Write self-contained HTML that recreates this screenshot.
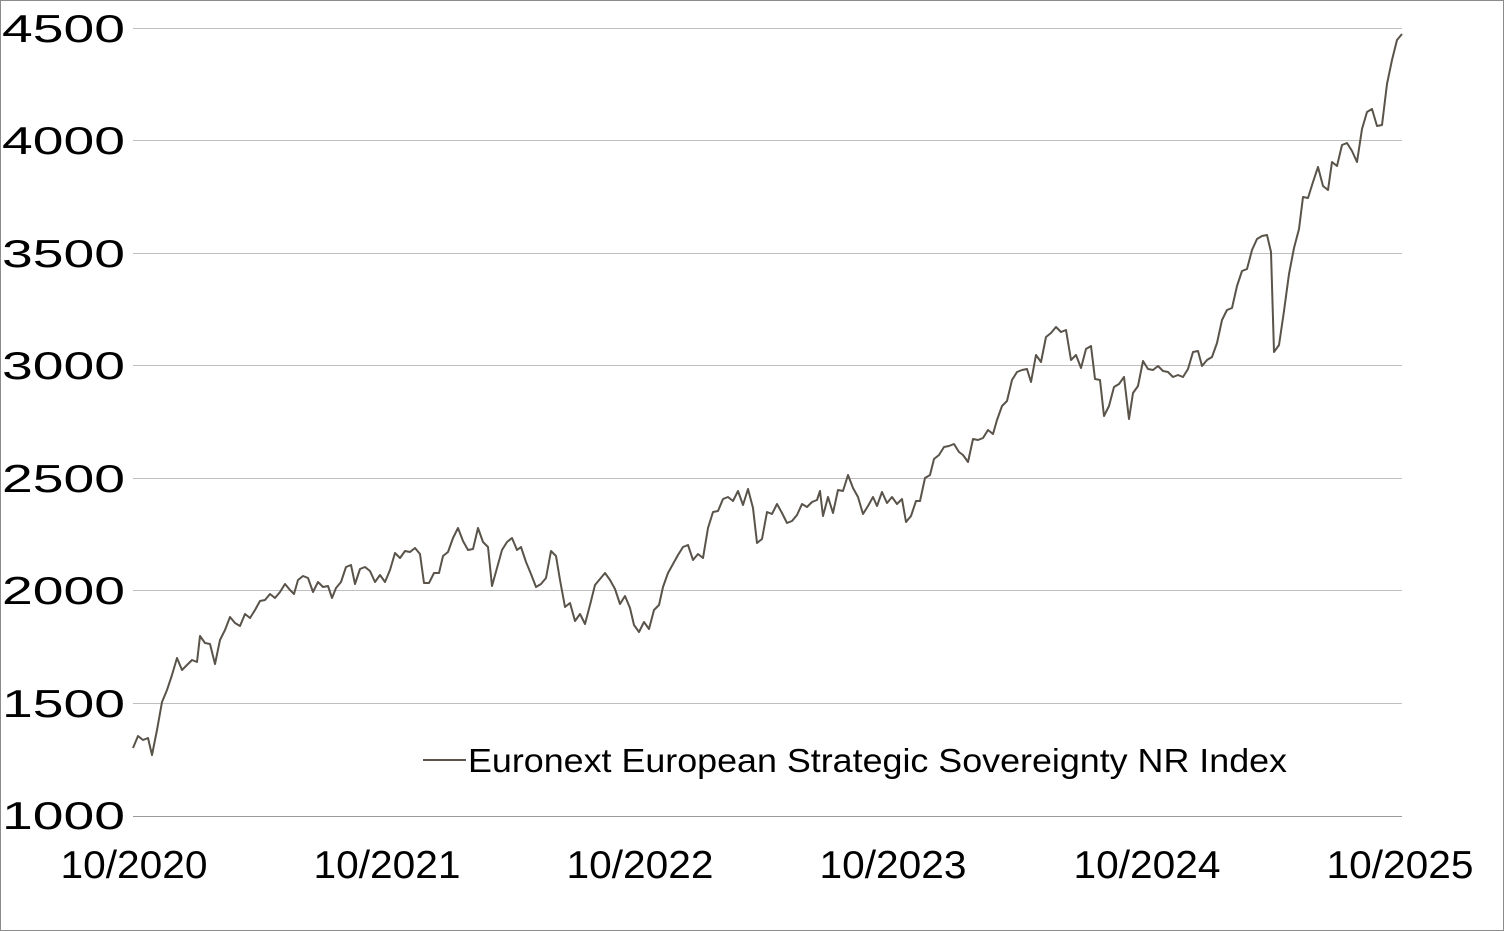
<!DOCTYPE html>
<html><head><meta charset="utf-8"><style>
html,body{margin:0;padding:0;background:#fff;}
svg{display:block;font-family:"Liberation Sans",sans-serif;}
</style></head><body>
<svg width="1504" height="931" viewBox="0 0 1504 931" xmlns="http://www.w3.org/2000/svg">
<rect x="0.5" y="0.5" width="1503" height="930" fill="#fff" stroke="#8c8c8c"/>
<g stroke="#bfbfbf" stroke-width="1">
<line x1="133" x2="1402" y1="28.5" y2="28.5"/>
<line x1="133" x2="1402" y1="140.5" y2="140.5"/>
<line x1="133" x2="1402" y1="253.5" y2="253.5"/>
<line x1="133" x2="1402" y1="365.5" y2="365.5"/>
<line x1="133" x2="1402" y1="478.5" y2="478.5"/>
<line x1="133" x2="1402" y1="590.5" y2="590.5"/>
<line x1="133" x2="1402" y1="703.5" y2="703.5"/>
</g>
<line x1="133" x2="1402" y1="816.5" y2="816.5" stroke="#9a9a9a"/>
<g font-size="39" fill="#000">
<text x="2" y="42" textLength="123" lengthAdjust="spacingAndGlyphs">4500</text>
<text x="2" y="154" textLength="123" lengthAdjust="spacingAndGlyphs">4000</text>
<text x="2" y="267" textLength="123" lengthAdjust="spacingAndGlyphs">3500</text>
<text x="2" y="379" textLength="123" lengthAdjust="spacingAndGlyphs">3000</text>
<text x="2" y="492" textLength="123" lengthAdjust="spacingAndGlyphs">2500</text>
<text x="2" y="604" textLength="123" lengthAdjust="spacingAndGlyphs">2000</text>
<text x="2" y="717" textLength="123" lengthAdjust="spacingAndGlyphs">1500</text>
<text x="2" y="829" textLength="123" lengthAdjust="spacingAndGlyphs">1000</text>
</g>
<g font-size="39" fill="#000" text-anchor="middle">
<text x="134" y="878" textLength="147" lengthAdjust="spacingAndGlyphs">10/2020</text>
<text x="387" y="878" textLength="147" lengthAdjust="spacingAndGlyphs">10/2021</text>
<text x="640" y="878" textLength="147" lengthAdjust="spacingAndGlyphs">10/2022</text>
<text x="893" y="878" textLength="147" lengthAdjust="spacingAndGlyphs">10/2023</text>
<text x="1147" y="878" textLength="147" lengthAdjust="spacingAndGlyphs">10/2024</text>
<text x="1400" y="878" textLength="147" lengthAdjust="spacingAndGlyphs">10/2025</text>
</g>
<polyline fill="none" stroke="#59534a" stroke-width="2" stroke-linejoin="round" points="133,748 138,736 143,740 148,738 152,755 157,730 162,702 167,690 172,675 177,658 182,670 187,665 192,660 197,662 200,636 205,643 210,644 215,664 220,640 225,630 230,617 235,623 240,626 245,614 250,618 255,610 260,601 265,600 270,594 275,598 280,592 285,584 290,590 294,594 298,580 303,576 308,578 313,592 318,582 323,587 328,586 332,598 336,588 341,582 346,567 351,565 355,584 360,569 365,567 370,571 375,582 380,575 385,582 390,570 395,553 400,558 405,551 410,552 415,548 420,554 424,583 429,583 434,573 439,573 443,556 448,552 453,538 458,528 463,541 468,550 473,549 478,528 483,542 488,547 492,586 497,568 502,550 507,542 512,538 517,550 521,547 526,562 531,574 536,587 541,584 546,578 551,551 556,556 560,580 565,607 570,603 575,621 580,614 585,624 590,605 595,585 600,579 605,573 610,580 615,589 620,604 625,596 630,608 634,625 639,632 644,622 649,629 654,610 659,605 663,587 668,573 673,564 678,555 683,547 688,545 693,560 698,554 703,558 708,528 713,512 718,511 723,499 728,497 733,501 738,491 743,505 748,489 753,508 757,543 762,539 767,512 772,514 777,504 782,513 787,523 792,521 797,515 802,504 807,507 812,502 817,500 820,491 823,516 828,497 833,513 838,490 843,491 848,475 853,488 858,497 863,514 868,506 873,497 877,506 882,492 887,503 892,497 897,504 902,499 906,522 911,516 916,501 920,501 925,478 930,475 934,459 939,455 944,447 949,446 954,444 959,452 963,455 968,462 973,439 978,440 983,438 988,430 993,434 997,420 1002,406 1007,401 1012,380 1017,372 1022,370 1027,369 1031,382 1036,355 1041,362 1046,337 1051,333 1056,327 1061,332 1066,330 1071,360 1076,355 1081,368 1086,349 1091,346 1095,379 1100,380 1104,416 1109,406 1114,387 1119,384 1124,377 1129,419 1133,393 1138,386 1143,361 1148,369 1153,370 1158,366 1163,371 1168,372 1173,377 1178,375 1183,377 1188,369 1193,352 1198,351 1202,366 1207,360 1212,357 1217,343 1222,320 1227,310 1232,308 1237,286 1242,271 1247,269 1252,250 1257,239 1262,236 1267,235 1271,252 1274,352 1279,345 1284,311 1289,274 1294,248 1299,229 1303,197 1308,198 1313,182 1318,167 1323,186 1328,190 1332,162 1337,166 1342,145 1347,143 1352,151 1357,162 1362,129 1367,112 1372,109 1377,126 1382,125 1387,84 1392,60 1397,40 1402,34"/>
<line x1="423" x2="466" y1="760" y2="760" stroke="#59534a" stroke-width="2"/>
<text x="468" y="772" font-size="33" fill="#000" textLength="819" lengthAdjust="spacingAndGlyphs">Euronext European Strategic Sovereignty NR Index</text>
</svg>
</body></html>
